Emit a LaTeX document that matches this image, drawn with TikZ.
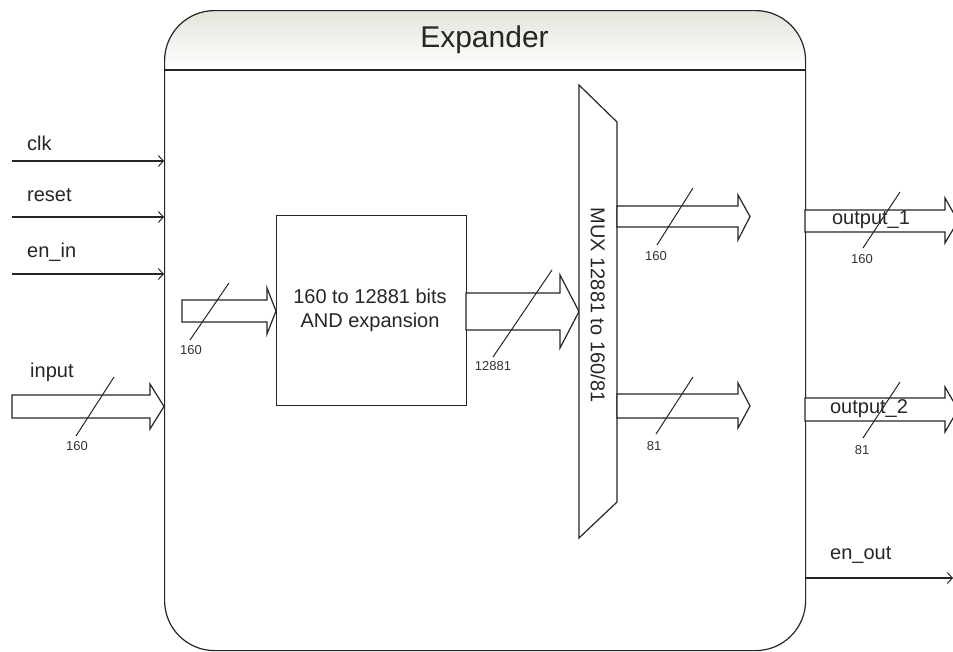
\documentclass[tikz,border=0pt]{standalone}
\usepackage{fontspec}
\setmainfont{Liberation Sans}
\usetikzlibrary{arrows.meta}
\definecolor{titletop}{RGB}{228,228,220}
\newcommand\busarrow[8]{% name, x0, xhead, xtip, ytop, ybot, headtop, headbot
  \draw[bus] (#2,#5) -- (#3,#5) -- (#3,#7) -- (#4,{(#5+#6)/2}) coordinate (#1) -- (#3,#8) -- (#3,#6) -- (#2,#6) -- cycle;}
\begin{document}
\begin{tikzpicture}[x=1pt,y=-1pt,
  ln/.style={draw=black!85, line width=1.2pt},
  bus/.style={draw=black!85, line width=1.2pt, fill=white, line join=miter},
  sig/.style={draw=black!85, line width=1.1pt, -{Straight Barb[length=5pt,width=11pt,line width=1pt]}},
  slash/.style={draw=black!85, line width=1pt},
  lab/.style={font=\fontsize{20}{24}\selectfont, text=black!85, inner sep=0pt},
  small/.style={font=\fontsize{13}{15}\selectfont, text=black!80, inner sep=0pt},
]
\useasboundingbox (0,0) rectangle (953,651);
\clip (0,0) rectangle (953,651);
\fill[white] (0,0) rectangle (953,651);

% main block title shading
\shade[top color=titletop, bottom color=white]
  (164,70) [rounded corners=50pt] -- (164,10) -- (805,10) [sharp corners] -- (805,70) -- cycle;
\node[ln, rounded corners=50pt, minimum width=641pt, minimum height=640pt, anchor=north west, inner sep=0pt] (main) at (164,10) {};
\draw[ln] (164,70) coordinate (sepL) -- (805,70) coordinate (sepR);
\node[font=\fontsize{30}{34}\selectfont, text=black!85] (title) at (484.5,40) {Expander};

% input signals
\coordinate (clkS) at (12,161);
\coordinate (rstS) at (12,217);
\coordinate (eniS) at (12,274);
\draw[sig] (clkS) -- (clkS -| main.west);
\draw[sig] (rstS) -- (rstS -| main.west);
\draw[sig] (eniS) -- (eniS -| main.west);
\node[lab, anchor=west] (clkL) at (27,143) {clk};
\node[lab, anchor=west] (rstL) at (27,195) {reset};
\node[lab, anchor=west] (eniL) at (27,252) {en\_in};

% input bus
\busarrow{inTip}{12}{150}{164}{395}{418}{384}{429}
\node[lab, anchor=west] (inL) at (30,372) {input};
\draw[slash] (114,377) -- (76,436);
\node[small] (inN) at (77,446) {160};

% AND block
\node[ln, minimum width=190pt, minimum height=190pt, anchor=north west, inner sep=0pt] (andb) at (276,215) {};
\node[lab, align=center] (andT) at (370,310) {160 to 12881 bits\\AND expansion};

% inner 160 bus
\busarrow{in2Tip}{182}{267}{276}{300}{322}{288}{334}
\draw[slash] (229,283) -- (190,340);
\node[small] (in2N) at (191,350) {160};

% 12881 bus
\busarrow{midTip}{466}{560}{579}{293}{330}{275}{348}
\draw[slash] (552,270) -- (493,357);
\node[small] (midN) at (493,366) {12881};

% MUX
\draw[ln, fill=white] (579,85) coordinate (muxTL) -- (617,122) coordinate (muxTR) -- (617,502) coordinate (muxBR) -- (579,538) coordinate (muxBL) -- cycle;
\node[lab, rotate=-90] (muxT) at (598,305) {MUX 12881 to 160/81};

% mux outputs
\busarrow{o1Tip}{617}{738}{750}{206}{227}{195}{240}
\draw[slash] (693,188) -- (657,245);
\node[small] (o1N) at (656,256) {160};

\busarrow{o2Tip}{617}{738}{750}{394}{418}{383}{428}
\draw[slash] (693,377) -- (656,434);
\node[small] (o2N) at (654,446) {81};

% block outputs
\busarrow{out1Tip}{805}{945}{958}{210}{232}{198}{243}
\node[lab] (out1L) at (871,220) {output\_1};
\draw[slash] (900,192) -- (863,248);
\node[small] (out1N) at (862,259) {160};

\busarrow{out2Tip}{805}{945}{958}{398}{421}{387}{432}
\node[lab] (out2L) at (869,409) {output\_2};
\draw[slash] (900,382) -- (863,438);
\node[small] (out2N) at (862,450) {81};

% en_out
\coordinate (enoE) at (953,578);
\draw[sig] (main.east |- enoE) -- (enoE);
\node[lab, anchor=west] (enoL) at (830,555) {en\_out};
\end{tikzpicture}
\end{document}
